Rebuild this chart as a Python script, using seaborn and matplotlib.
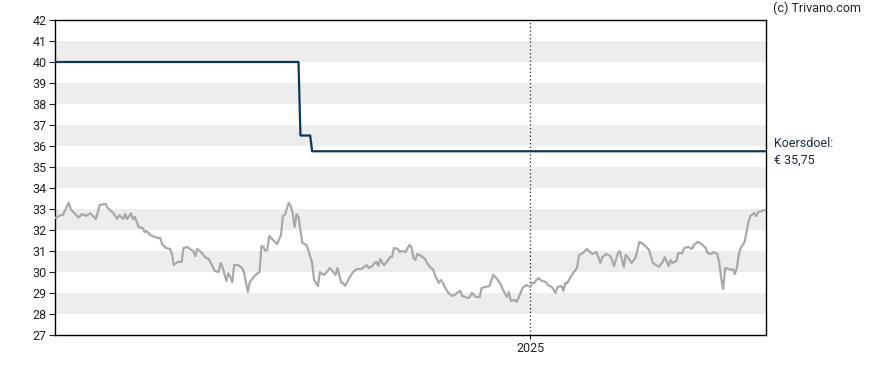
import matplotlib
matplotlib.use("Agg")
import matplotlib.pyplot as plt
import matplotlib.dates as mdates
import seaborn as sns
import pandas as pd

# ---- data ----
start_date = "2024-05-02"
end_date = "2025-05-02"
price_days = [0, 3, 4, 7, 8, 9, 12, 14, 16, 18, 21, 23, 26, 27, 30, 32, 33, 35, 36, 37,
              39, 40, 41, 43, 45, 46, 47, 49, 51, 53, 54, 55, 57, 59, 60, 61, 63, 65, 66, 68,
              69, 71, 72, 73, 75, 77, 79, 81, 82, 84, 85, 86, 88, 89, 90, 91, 92, 94, 96, 97,
              99, 100, 102, 104, 105, 106, 107, 108, 109, 110, 111, 114, 116, 117, 118, 120, 121, 122, 123, 124,
              125, 127, 129, 130, 132, 133, 135, 136, 138, 140, 141, 142, 144, 145, 147, 148, 149, 151, 153, 155,
              157, 158, 160, 161, 163, 164, 165, 166, 167, 168, 169, 171, 172, 173, 174, 176, 177, 178, 180, 181,
              182, 183, 184, 185, 186, 188, 190, 191, 193, 194, 195, 197, 198, 199, 200, 202, 204, 205, 208, 209,
              212, 213, 214, 216, 218, 219, 221, 223, 225, 227, 229, 230, 232, 233, 234, 236, 237, 239, 240, 242,
              244, 245, 246, 248, 250, 252, 253, 255, 257, 258, 260, 261, 262, 263, 265, 266, 268, 269, 271, 273,
              274, 276, 278, 280, 281, 283, 285, 286, 287, 289, 290, 292, 293, 294, 296, 298, 300, 302, 304, 305,
              306, 307, 310, 312, 313, 315, 316, 317, 319, 320, 322, 323, 325, 327, 328, 330, 332, 334, 335, 337,
              338, 340, 341, 342, 343, 344, 346, 347, 348, 349, 350, 351, 352, 354, 356, 357, 359, 360, 361, 363,
              364, 365]
price_vals = [32.57, 32.71, 32.71, 33.29, 33.0, 32.9, 32.6, 32.76, 32.67, 32.8, 32.52, 33.19, 33.24, 33.05, 32.8, 32.52, 32.71, 32.52, 32.76, 32.52,
              32.8, 32.52, 32.62, 32.14, 32.1, 31.9, 31.95, 31.76, 31.67, 31.62, 31.62, 31.33, 31.14, 31.1, 30.86, 30.33, 30.48, 30.48, 31.14, 31.19,
              31.1, 31.0, 30.76, 31.1, 30.95, 30.71, 30.62, 30.24, 30.05, 30.0, 30.43, 30.24, 29.57, 29.95, 29.76, 29.52, 30.33, 30.33, 30.19, 30.0,
              29.05, 29.52, 29.76, 29.95, 30.0, 31.24, 31.19, 31.0, 31.05, 31.71, 31.62, 31.33, 31.76, 32.67, 32.71, 33.29, 33.14, 32.8, 32.14, 32.76,
              32.62, 31.38, 31.29, 31.05, 30.43, 29.62, 29.33, 30.0, 29.86, 30.05, 30.19, 30.1, 29.86, 30.19, 29.48, 29.48, 29.33, 29.71, 30.0, 30.14,
              30.14, 30.19, 30.33, 30.19, 30.29, 30.43, 30.48, 30.29, 30.62, 30.43, 30.33, 30.57, 30.71, 30.71, 31.14, 31.1, 30.95, 31.0, 30.95, 31.14,
              31.29, 31.19, 30.67, 30.57, 30.86, 30.76, 30.62, 30.43, 30.19, 30.14, 29.86, 29.48, 29.62, 29.52, 29.29, 29.0, 28.86, 28.9, 29.1, 28.86,
              28.76, 28.81, 29.0, 28.81, 28.81, 29.24, 29.29, 29.33, 29.86, 29.67, 29.38, 29.14, 28.81, 29.05, 28.62, 28.67, 28.57, 29.0, 29.24, 29.38,
              29.29, 29.48, 29.48, 29.71, 29.57, 29.52, 29.38, 29.29, 29.0, 29.29, 29.33, 29.1, 29.48, 29.48, 29.81, 29.95, 30.19, 30.81, 30.9, 31.1,
              31.0, 30.86, 30.95, 30.43, 30.71, 30.86, 30.76, 30.57, 30.29, 30.9, 31.0, 30.24, 30.81, 30.71, 30.43, 30.67, 31.43, 31.33, 31.14, 31.05,
              30.71, 30.43, 30.24, 30.48, 30.71, 30.29, 30.57, 30.43, 30.52, 30.9, 30.9, 31.14, 31.19, 31.1, 31.29, 31.43, 31.33, 31.14, 30.9, 30.86,
              30.95, 30.86, 30.43, 29.71, 29.19, 30.19, 30.14, 30.1, 30.14, 29.9, 30.19, 30.81, 31.14, 31.43, 32.38, 32.67, 32.81, 32.67, 32.86, 32.9,
              32.95, 32.95]
target_days = [0, 125, 126, 131, 132, 365]
target_vals = [40.0, 40.0, 36.5, 36.5, 35.75, 35.75]
y_ticks = list(range(27, 43))
x_tick_dates = ["2025-01-01"]
x_tick_labels = ["2025"]
target_label = "Koersdoel:\n€ 35,75"
copyright_text = "(c) Trivano.com"

# ---- build frames ----
t0 = pd.Timestamp(start_date)
price_df = pd.DataFrame({"date": t0 + pd.to_timedelta(price_days, unit="D"), "value": price_vals})
target_df = pd.DataFrame({"date": t0 + pd.to_timedelta(target_days, unit="D"), "value": target_vals})

sns.set_style("white")
plt.rcParams["font.family"] = ["Roboto", "DejaVu Sans"]

fig = plt.figure(figsize=(8.88, 3.70), dpi=100)
ax = fig.add_axes([55 / 888, 35 / 370, 711 / 888, 315 / 370])

# alternating bands
for lo in range(28, 42, 2):
    ax.axhspan(lo, lo + 1, color="#ededed", lw=0, zorder=0)

sns.lineplot(data=price_df, x="date", y="value", ax=ax, color="#a9a9a9", lw=1.6, zorder=3)
sns.lineplot(data=target_df, x="date", y="value", ax=ax, color="#0f3853", lw=1.6, zorder=4)

for d in x_tick_dates:
    ax.axvline(pd.Timestamp(d), color="#222222", lw=0.9, ls=(0, (1, 2)), zorder=2)

ax.set_xlim(pd.Timestamp(start_date), pd.Timestamp(end_date))
ax.set_ylim(y_ticks[0], y_ticks[-1])
ax.set_yticks(y_ticks)
ax.set_yticklabels([str(v) for v in y_ticks])
ax.set_xticks([pd.Timestamp(d) for d in x_tick_dates])
ax.set_xticklabels(x_tick_labels)
ax.set_xlabel("")
ax.set_ylabel("")
ax.tick_params(axis="y", direction="out", length=4, width=0.8, labelsize=9, colors="#222222", pad=2, left=True)
ax.tick_params(axis="x", direction="out", length=3, width=0.8, labelsize=9, colors="#222222", pad=2, bottom=True)
for s in ax.spines.values():
    s.set_color("#000000")
    s.set_linewidth(1.0)
ax.grid(False)

fig.text(773 / 888, 1 - 8 / 370, copyright_text, fontsize=9, color="#222222", va="center", ha="left")
fig.text(774 / 888, 1 - 152 / 370, target_label, fontsize=9, color="#1d2d3d", va="center", ha="left", linespacing=1.4)

fig.savefig("out.png", dpi=100)
